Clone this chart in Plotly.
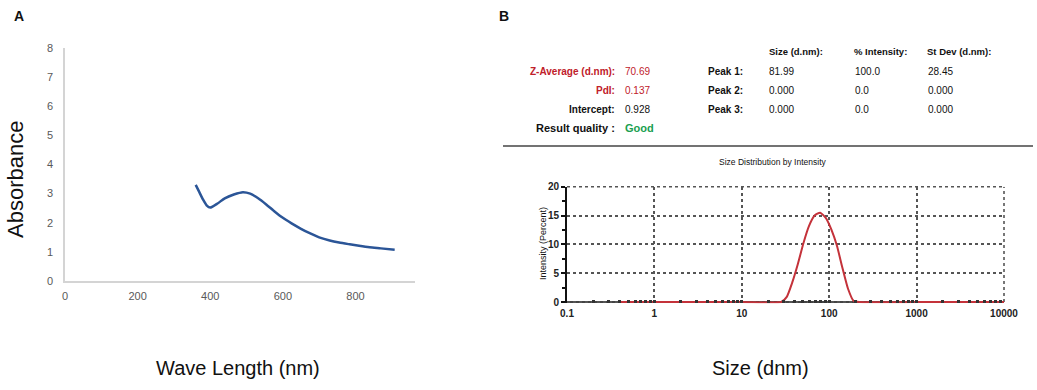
import plotly.graph_objects as go

W, H = 1037, 390

# ---------- Panel A data (UV-Vis) ----------
wavelength_nm = [360, 370, 380, 390, 400, 420, 440, 465, 490, 510, 532, 555, 578, 600,
                 624, 650, 674, 700, 729, 755, 784, 810, 839, 870, 908]
absorbance = [3.30, 3.05, 2.80, 2.60, 2.52, 2.66, 2.84, 2.97, 3.05, 3.00, 2.84, 2.62, 2.38, 2.17,
              1.98, 1.79, 1.64, 1.50, 1.39, 1.32, 1.26, 1.21, 1.16, 1.12, 1.07]
a_xticks = [0, 200, 400, 600, 800]
a_yticks = [0, 1, 2, 3, 4, 5, 6, 7, 8]

# ---------- Panel B data (DLS) ----------
size_dnm = [0.4, 1, 10, 28.2, 32.7, 37.8, 43.8, 50.7, 58.8, 68.1, 78.8, 91.3, 105.7, 122.4,
            141.8, 164.2, 190.1, 220.2, 1000, 10000]
intensity_pct = [0, 0, 0, 0, 0.9, 3.4, 6.6, 10.2, 13.2, 15.0, 15.5, 14.6, 12.6, 9.8,
                 5.9, 2.3, 0.2, 0, 0, 0]
b_xticks = [0.1, 1, 10, 100, 1000, 10000]
b_xticklabels = ["0.1", "1", "10", "100", "1000", "10000"]
b_yticks = [0, 5, 10, 15, 20]

table_left_labels = ["Z-Average (d.nm):", "PdI:", "Intercept:", "Result quality :"]
table_left_values = ["70.69", "0.137", "0.928", "Good"]
table_headers = ["Size (d.nm):", "% Intensity:", "St Dev (d.nm):"]
peak_names = ["Peak 1:", "Peak 2:", "Peak 3:"]
peak_size = ["81.99", "0.000", "0.000"]
peak_intensity = ["100.0", "0.0", "0.0"]
peak_stdev = ["28.45", "0.000", "0.000"]

FONT = "Liberation Sans, Arial, sans-serif"
RED = "#c0202a"
GREEN = "#1aa050"


def px(x):
    return x / W


def py(y):
    return 1 - y / H


fig = go.Figure()

fig.add_trace(go.Scatter(x=wavelength_nm, y=absorbance, mode="lines",
                         line=dict(color="#2b5597", width=2.5, shape="spline", smoothing=0.6),
                         xaxis="x", yaxis="y", showlegend=False, hoverinfo="skip"))

fig.add_trace(go.Scatter(x=size_dnm, y=intensity_pct, mode="lines",
                         line=dict(color="#c4323a", width=2, shape="spline", smoothing=0.5),
                         xaxis="x2", yaxis="y2", showlegend=False, hoverinfo="skip"))

GRID = "#555"
fig.update_layout(
    width=W, height=H,
    margin=dict(l=0, r=0, t=0, b=0, pad=0, autoexpand=False),
    paper_bgcolor="white", plot_bgcolor="white",
    font=dict(family=FONT, color="#222"),
    xaxis=dict(domain=[px(65), px(415)], range=[0, 964], tickvals=a_xticks,
               showgrid=False, zeroline=False, showline=True, linecolor="#d4d4d4", linewidth=1.5,
               ticks="", ticklabelstandoff=4, tickfont=dict(size=11, color="#595959"),
               anchor="y", automargin=False),
    yaxis=dict(domain=[py(281), py(48)], range=[0, 8], tickvals=a_yticks,
               showgrid=False, zeroline=False, showline=True, linecolor="#d4d4d4", linewidth=1.5,
               ticks="", ticklabelstandoff=8, tickfont=dict(size=11, color="#595959"), anchor="x",
               automargin=False),
    xaxis2=dict(domain=[px(567), px(1004)], type="log", range=[-1, 4],
                tickvals=b_xticks, ticktext=b_xticklabels,
                showgrid=True, gridcolor=GRID, griddash="dot", gridwidth=1.6,
                zeroline=False, showline=False,
                ticks="inside", ticklen=3, tickwidth=3, tickcolor="#333",
                minor=dict(dtick="D1", ticks="inside", ticklen=3, tickwidth=3, tickcolor="#333",
                           showgrid=False),
                ticklabelstandoff=3,
                tickfont=dict(size=10, color="#222", weight="bold"), anchor="y2",
                automargin=False),
    yaxis2=dict(domain=[py(303.2), py(186.7)], range=[-0.2, 20], tickvals=b_yticks,
                showgrid=True, gridcolor=GRID, griddash="dot", gridwidth=1.6,
                zeroline=False, showline=True, linecolor="#111", linewidth=2,
                ticks="outside", ticklen=4, tickwidth=1.5, tickcolor="#111",
                minor=dict(dtick=2.5, ticks="outside", ticklen=3, tickwidth=1.5,
                           tickcolor="#111", showgrid=False),
                tickfont=dict(size=10, color="#222", weight="bold"), anchor="x2",
                automargin=False),
)

# baseline of DLS plot drawn beneath the curve
fig.add_shape(type="line", xref="x2 domain", yref="y2", x0=0, x1=1, y0=0, y1=0,
              line=dict(color="#444", width=2), layer="below")
# dotted top and right frame of DLS plot
fig.add_shape(type="line", xref="x2 domain", yref="y2 domain", x0=0, x1=1, y0=1, y1=1,
              line=dict(color=GRID, width=1.6, dash="dot"), layer="below")
fig.add_shape(type="line", xref="x2 domain", yref="y2", x0=1, x1=1, y0=0, y1=20,
              line=dict(color=GRID, width=1.6, dash="dot"), layer="below")

# separator line in panel B
fig.add_shape(type="line", xref="paper", yref="paper", x0=px(503), x1=px(1033),
              y0=py(146), y1=py(146), line=dict(color="#444", width=1.5))

ann = []


def text(x, y, s, size=10, color="#111", bold=False, anchor="left", angle=0, yanchor="middle"):
    ann.append(dict(x=px(x), y=py(y), xref="paper", yref="paper", text=s, showarrow=False,
                    xanchor=anchor, yanchor=yanchor, textangle=angle,
                    font=dict(family=FONT, size=size, color=color,
                              weight="bold" if bold else "normal")))


# panel letters
text(12, 16, "A", size=14, bold=True)
text(497, 16, "B", size=14, bold=True)

# axis titles
text(15, 180, "Absorbance", size=22, anchor="center", angle=-90)
text(238, 368, "Wave Length (nm)", size=20, anchor="center")
text(760, 368, "Size (dnm)", size=20, anchor="center")
text(773, 162, "Size Distribution by Intensity", size=8.5, anchor="center")
text(543, 244, "Intensity (Percent)", size=9, anchor="center", angle=-90)

# table
rows_y = [71, 90, 109, 128]
left_colors = [RED, RED, "#111", "#111"]
val_colors = [RED, RED, "#111", GREEN]
for i, (lab, val) in enumerate(zip(table_left_labels, table_left_values)):
    last = i == 3
    text(617, rows_y[i], lab, size=11 if last else 10, color=left_colors[i], bold=True,
         anchor="right")
    text(623, rows_y[i], val, size=11 if last else 10, color=val_colors[i], bold=last)

header_x = [767, 852, 925]
for hx, h in zip(header_x, table_headers):
    text(hx, 52, h, size=9.5, bold=True)
for i in range(3):
    text(745, rows_y[i], peak_names[i], size=10, bold=True, anchor="right")
    text(767, rows_y[i], peak_size[i], size=10)
    text(853, rows_y[i], peak_intensity[i], size=10)
    text(926, rows_y[i], peak_stdev[i], size=10)

fig.update_layout(annotations=ann)
fig.write_html("out.html",
               config={"displayModeBar": False},
               post_script="document.body.style.margin='0';"
                           "document.body.style.overflow='hidden';")
